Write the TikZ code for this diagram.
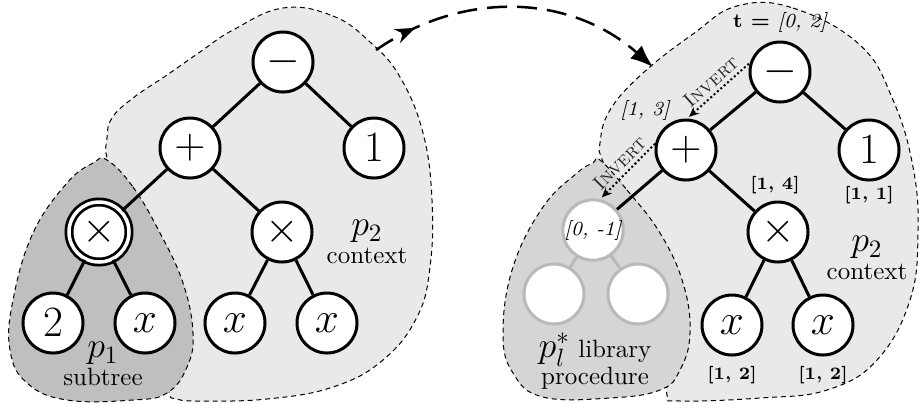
\documentclass[tikz,border=0pt]{standalone}
\usetikzlibrary{arrows.meta,decorations.markings}

\begin{document}
\begin{tikzpicture}[
  x=0.4pt, y=-0.4pt,
  op/.style={circle, draw, line width=1.2pt, fill=white, minimum size=24pt, inner sep=0pt, font=\LARGE},
  subop/.style={op, double, double distance=1.4pt, line width=1.1pt},
  libop/.style={op, draw=gray!55, font=\footnotesize\itshape},
  edge/.style={line width=1.2pt},
  libedge/.style={edge, draw=gray!55},
  region/.style={draw, line width=0.4pt, dash pattern=on 2pt off 1.5pt},
  ctx/.style={region, fill=gray!17},
  sub/.style={region, fill=gray!50},
  lib/.style={region, fill=gray!33},
  tag/.style={font=\scriptsize\bfseries},
  itag/.style={font=\footnotesize\itshape},
  note/.style={align=center, font=\normalsize},
  invert/.style={densely dotted, line width=0.8pt, {Stealth[length=4pt,width=3.5pt]}-, shorten <=1pt},
  invlbl/.style={font=\footnotesize, text=black!85, inner sep=1.5pt},
  flow/.style={line width=1pt, dash pattern=on 8pt off 4pt, -{Latex[length=9pt,width=7pt]},
    postaction={decorate},
    decoration={markings, mark=at position 0.15 with {\arrow{Stealth[length=8pt,width=6pt]}}}},
]
\useasboundingbox (0,0) rectangle (920,403);

% regions: context behind, subtree / library procedure on top
\draw[ctx] plot[smooth cycle, tension=0.7] coordinates {
  (283,8) (333,16) (370,42) (400,77) (423,133) (432,200) (430,267) (417,317)
  (383,360) (333,387) (267,399) (200,401) (176,399) (169,392) (168,360)
  (152,290) (128,215) (108,162) (107,138) (112,118) (133,98) (167,75) (200,52) (233,30)};
\draw[sub] plot[smooth cycle, tension=0.7] coordinates {
  (107,160) (133,187) (160,233) (183,283) (193,333) (187,367) (167,393) (133,400)
  (67,400) (27,383) (10,350) (13,300) (33,233) (67,183) (93,163)};

\draw[ctx] plot[smooth cycle, tension=0.7] coordinates {
  (737,6) (793,8) (860,45) (893,100) (913,167) (918,233) (910,300) (877,360)
  (827,390) (760,398) (680,401) (667,395) (668,360) (652,290) (625,215)
  (603,162) (600,143) (610,110) (643,73) (693,34)};
\draw[lib] plot[smooth cycle, tension=0.7] coordinates {
  (600,160) (627,190) (660,233) (683,283) (690,333) (680,370) (660,390) (610,398)
  (543,397) (513,373) (503,333) (513,267) (543,207) (577,173) (593,163)};

% left tree
\node[op] (lm) at (283,62) {$-$};
\node[op] (lp) at (190,148) {$+$};
\node[op] (lone) at (374,148) {$1$};
\node[subop] (lsub) at (99,232) {$\times$};
\node[op] (ltimes) at (282,232) {$\times$};
\node[op] (ltwo) at (53,323) {$2$};
\node[op] (lxa) at (145,323) {$x$};
\node[op] (lxb) at (235,323) {$x$};
\node[op] (lxc) at (327,323) {$x$};

\draw[edge] (lm) -- (lp);
\draw[edge] (lm) -- (lone);
\draw[edge] (lp) -- (lsub);
\draw[edge] (lp) -- (ltimes);
\draw[edge] (lsub) -- (ltwo);
\draw[edge] (lsub) -- (lxa);
\draw[edge] (ltimes) -- (lxb);
\draw[edge] (ltimes) -- (lxc);

\node[note] (lsublbl) at (103,364) {{\Large $p_1$}\\[-1pt]subtree};
\node[note] (lctxlbl) at (367,242) {{\Large $p_2$}\\[-1pt]context};

% right tree
\node[op] (rm) at (780,72) {$-$};
\node[op] (rp) at (686,150) {$+$};
\node[op] (rone) at (869,150) {$1$};
\node[libop] (rlib) at (593,230) {[0, -1]};
\node[op] (rtimes) at (778,232) {$\times$};
\node[libop] (rla) at (554,294) {};
\node[libop] (rlb) at (638,294) {};
\node[op] (rxa) at (732,325) {$x$};
\node[op] (rxb) at (823,325) {$x$};

\draw[edge] (rm) -- (rp);
\draw[edge] (rm) -- (rone);
\draw[edge] (rp) -- (rlib);
\draw[edge] (rp) -- (rtimes);
\draw[edge] (rtimes) -- (rxa);
\draw[edge] (rtimes) -- (rxb);
\draw[libedge] (rlib) -- (rla);
\draw[libedge] (rlib) -- (rlb);

% interval tags
\node[itag] (tlbl) at (780,22) {{\upshape\bfseries t =} [0, 2]};
\node[itag] (plbl) at (645,110) {[1, 3]};
\node[tag] (timeslbl) at (775,185) {[1, 4]};
\node[tag] (onelbl) at (869,195) {[1, 1]};
\node[tag] (xalbl) at (732,375) {[1, 2]};
\node[tag] (xblbl) at (823,375) {[1, 2]};

% inversion steps
\draw[invert] (rp.88) -- (rm.163) node[midway, sloped, above, invlbl] {\textsc{Invert}};
\draw[invert] (rlib.77) -- (rp.168) node[midway, sloped, above, invlbl] {\textsc{Invert}};

\node[note] (rlibllbl) at (595,361) {{\Large $p_l^*$} library\\[-1pt]procedure};
\node[note] (rctxlbl) at (867,258) {{\Large $p_2$}\\[-1pt]context};

% rewrite arrow
\coordinate (src) at (376,50);
\coordinate (dst) at (653,67);
\draw[flow] (src) to[bend left=38] (dst);

\end{tikzpicture}
\end{document}
